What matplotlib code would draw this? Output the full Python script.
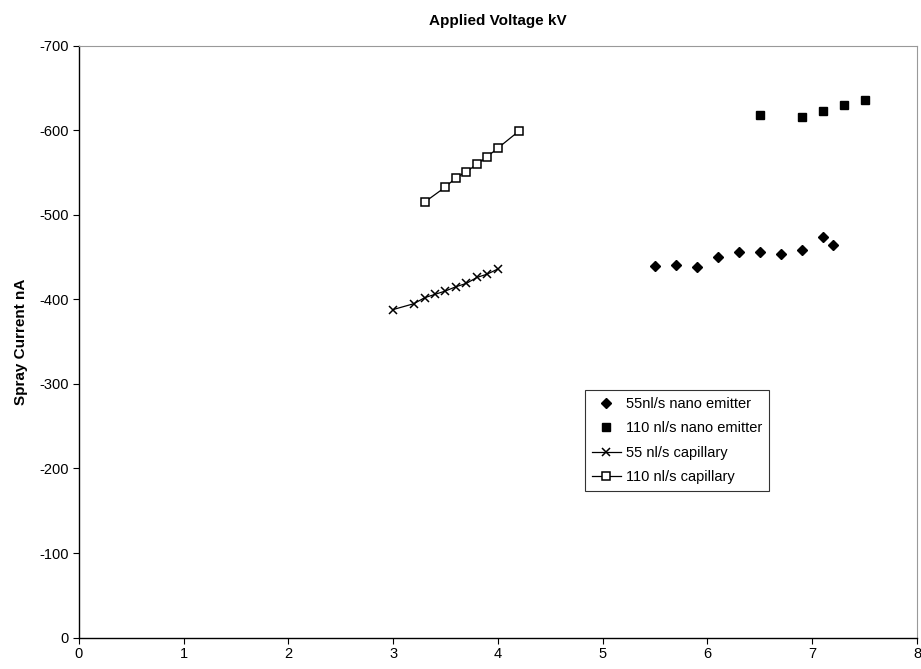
import matplotlib
matplotlib.use("Agg")
import matplotlib.pyplot as plt

plt.rcParams['font.family'] = ['Liberation Sans', 'DejaVu Sans']
plt.rcParams['axes.unicode_minus'] = False

# 55 nl/s nano emitter
nano55_x = [5.5, 5.7, 5.9, 6.1, 6.3, 6.5, 6.7, 6.9, 7.1, 7.2]
nano55_y = [-440, -441, -438, -450, -456, -456, -454, -459, -474, -464]
# 110 nl/s nano emitter
nano110_x = [6.5, 6.9, 7.1, 7.3, 7.5]
nano110_y = [-618, -616, -623, -630, -636]
# 55 nl/s capillary
cap55_x = [3.0, 3.2, 3.3, 3.4, 3.5, 3.6, 3.7, 3.8, 3.9, 4.0]
cap55_y = [-388, -395, -402, -406, -410, -415, -419, -426, -430, -436]
# 110 nl/s capillary
cap110_x = [3.3, 3.5, 3.6, 3.7, 3.8, 3.9, 4.0, 4.2]
cap110_y = [-515, -533, -544, -551, -560, -569, -579, -599]

labels = ["55nl/s nano emitter", "110 nl/s nano emitter",
          "55 nl/s capillary", "110 nl/s capillary"]
x_ticks = [0, 1, 2, 3, 4, 5, 6, 7, 8]
y_ticks = [0, -100, -200, -300, -400, -500, -600, -700]

fig = plt.figure(figsize=(9.21, 6.69), dpi=100)
ax = fig.add_axes([0.0855, 0.047, 0.9101, 0.8845])

ax.plot(nano55_x, nano55_y, linestyle='none', marker='D', markersize=4.8,
        color='black', label=labels[0])
ax.plot(nano110_x, nano110_y, linestyle='none', marker='s', markersize=6.3,
        color='black', label=labels[1])
ax.plot(cap55_x, cap55_y, linestyle='-', linewidth=0.9, marker='x',
        markersize=5.8, markeredgewidth=1.1, color='black', label=labels[2])
ax.plot(cap110_x, cap110_y, linestyle='-', linewidth=0.9, marker='s',
        markersize=5.5, markerfacecolor='white', markeredgewidth=1.1,
        color='black', label=labels[3])

ax.set_xlim(0, 8)
ax.set_ylim(0, -700)
ax.set_xticks(x_ticks)
ax.set_yticks(y_ticks)
ax.tick_params(axis='both', labelsize=10.5, direction='out', length=4,
               width=0.8, colors='black', pad=3)
for side in ['top', 'right']:
    ax.spines[side].set_color('#999999')
    ax.spines[side].set_linewidth(0.8)
for side in ['left', 'bottom']:
    ax.spines[side].set_linewidth(1.0)

ax.set_title("Applied Voltage kV", fontsize=11, fontweight='bold', pad=15)
ax.set_ylabel("Spray Current nA", fontsize=11, fontweight='bold', labelpad=8)

leg = ax.legend(loc='upper left', bbox_to_anchor=(0.604, 0.418), fontsize=10.5,
                frameon=True, fancybox=False, edgecolor='black',
                handlelength=2.0, handletextpad=0.35, borderpad=0.45,
                labelspacing=0.72, borderaxespad=0)
leg.get_frame().set_linewidth(0.8)

fig.savefig("out.png", dpi=100)
